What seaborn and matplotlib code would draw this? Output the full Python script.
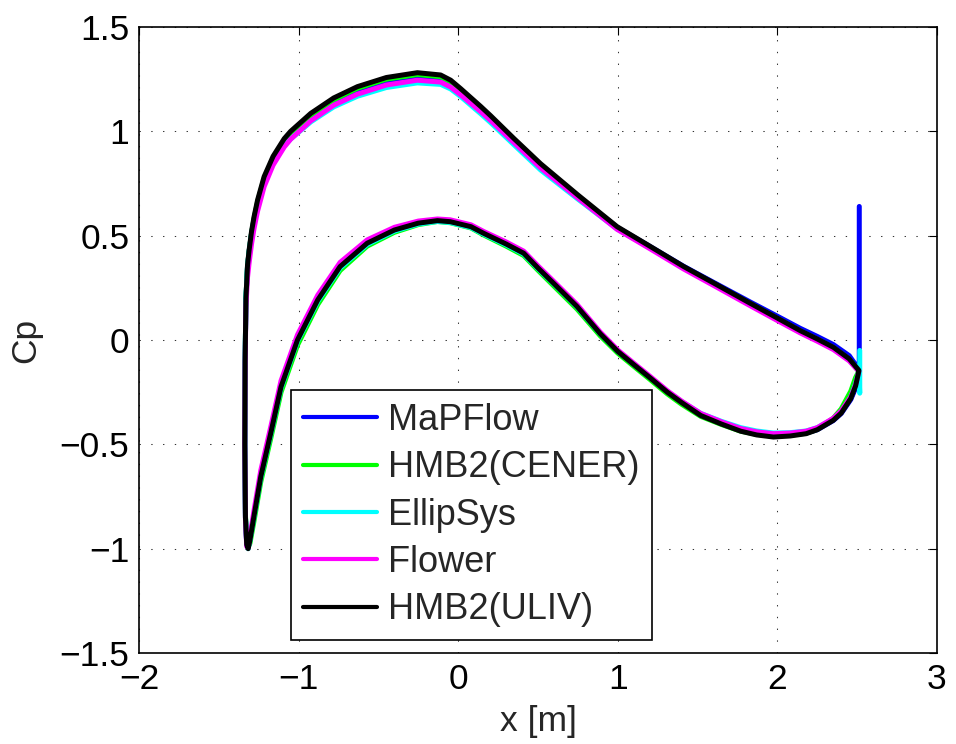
import numpy as np
import pandas as pd
import matplotlib
matplotlib.use("Agg")
import matplotlib.pyplot as plt
import seaborn as sns

# ---------------- data ----------------
SOLVERS = ["MaPFlow", "HMB2(CENER)", "EllipSys", "Flower", "HMB2(ULIV)"]
COLORS = ["#0000FF", "#00FF00", "#00FFFF", "#FF00FF", "#000000"]

# lower Cp branch (trailing edge -> leading edge)
X_LOWER = [2.51, 2.49, 2.46, 2.40, 2.35, 2.25, 2.18, 2.08, 1.975, 1.87, 1.77, 1.65,
           1.52, 1.40, 1.31, 1.20, 1.10, 1.00, 0.89, 0.745, 0.60, 0.50, 0.41, 0.30,
           0.16, 0.08, -0.05, -0.13, -0.25, -0.40, -0.57, -0.74, -0.88, -1.007,
           -1.11, -1.174, -1.237, -1.28, -1.305, -1.316]
# upper Cp branch (leading edge -> trailing edge)
X_UPPER = [-1.325, -1.333, -1.337, -1.335, -1.33, -1.32, -1.31, -1.295, -1.279,
           -1.257, -1.216, -1.16, -1.09, -1.05, -0.924, -0.78, -0.632, -0.45,
           -0.256, -0.11, -0.047, 0.015, 0.14, 0.203, 0.35, 0.516, 0.75, 0.996,
           1.2, 1.413, 1.62, 1.83, 2.0, 2.143, 2.25, 2.351, 2.45, 2.51]

MAPFLOW_LOWER = [-0.16, -0.23, -0.285, -0.352, -0.386, -0.43, -0.446, -0.454, -0.457,
                 -0.447, -0.431, -0.399, -0.358, -0.299, -0.249, -0.18, -0.117, -0.054,
                 0.031, 0.161, 0.271, 0.346, 0.417, 0.462, 0.512, 0.544, 0.568, 0.573,
                 0.561, 0.528, 0.466, 0.355, 0.195, 0.003, -0.22, -0.44, -0.65, -0.84,
                 -0.955, -0.995]
CENER_LOWER = [-0.15, -0.18, -0.245, -0.33, -0.375, -0.428, -0.447, -0.456, -0.46,
               -0.452, -0.437, -0.405, -0.366, -0.308, -0.258, -0.188, -0.126, -0.063,
               0.02, 0.148, 0.258, 0.334, 0.405, 0.45, 0.503, 0.537, 0.562, 0.568,
               0.553, 0.516, 0.45, 0.333, 0.17, -0.025, -0.25, -0.47, -0.68, -0.87,
               -0.975, -0.99]
ELLIPSYS_LOWER = [-0.15, -0.21, -0.275, -0.345, -0.378, -0.42, -0.436, -0.444, -0.446,
                  -0.436, -0.42, -0.39, -0.352, -0.295, -0.246, -0.178, -0.116, -0.054,
                  0.03, 0.158, 0.268, 0.342, 0.412, 0.456, 0.507, 0.539, 0.563, 0.568,
                  0.556, 0.522, 0.458, 0.345, 0.185, -0.006, -0.23, -0.45, -0.66, -0.85,
                  -0.962, -1.0]
FLOWER_LOWER = [-0.15, -0.215, -0.272, -0.34, -0.375, -0.42, -0.437, -0.446, -0.449,
                -0.44, -0.424, -0.392, -0.352, -0.293, -0.243, -0.173, -0.111, -0.048,
                0.038, 0.17, 0.28, 0.355, 0.426, 0.47, 0.52, 0.552, 0.576, 0.58,
                0.57, 0.54, 0.48, 0.372, 0.215, 0.025, -0.195, -0.415, -0.625, -0.82,
                -0.945, -0.995]
ULIV_LOWER = [-0.15, -0.22, -0.28, -0.35, -0.385, -0.43, -0.449, -0.46, -0.465,
              -0.455, -0.437, -0.403, -0.362, -0.30, -0.25, -0.18, -0.118, -0.055,
              0.03, 0.16, 0.27, 0.345, 0.416, 0.46, 0.511, 0.543, 0.567, 0.572,
              0.56, 0.527, 0.464, 0.352, 0.192, 0.0, -0.224, -0.445, -0.655, -0.846,
              -0.96, -1.0]

MAPFLOW_UPPER = [-0.98, -0.85, -0.5, -0.1, 0.2, 0.355, 0.425, 0.51, 0.578, 0.655, 0.763,
                 0.858, 0.942, 0.977, 1.063, 1.137, 1.19, 1.233, 1.256, 1.247, 1.223,
                 1.186, 1.104, 1.06, 0.952, 0.83, 0.688, 0.54, 0.449, 0.353, 0.268,
                 0.182, 0.114, 0.056, 0.017, -0.022, -0.075, -0.14]
CENER_UPPER = [-0.97, -0.84, -0.5, -0.1, 0.2, 0.355, 0.425, 0.512, 0.582, 0.662, 0.774,
               0.871, 0.955, 0.99, 1.077, 1.151, 1.206, 1.25, 1.272, 1.262, 1.237,
               1.198, 1.113, 1.068, 0.958, 0.834, 0.69, 0.538, 0.446, 0.348, 0.261,
               0.172, 0.1, 0.04, 0.0, -0.04, -0.095, -0.15]
ELLIPSYS_UPPER = [-0.98, -0.85, -0.5, -0.1, 0.2, 0.35, 0.42, 0.505, 0.572, 0.648, 0.755,
                  0.848, 0.93, 0.963, 1.045, 1.117, 1.168, 1.21, 1.232, 1.225, 1.203,
                  1.167, 1.085, 1.042, 0.935, 0.815, 0.675, 0.532, 0.442, 0.347, 0.262,
                  0.174, 0.103, 0.043, 0.003, -0.037, -0.092, -0.145]
FLOWER_UPPER = [-0.99, -0.86, -0.5, -0.12, 0.16, 0.3, 0.37, 0.46, 0.535, 0.618, 0.735,
                0.838, 0.925, 0.962, 1.05, 1.125, 1.178, 1.222, 1.245, 1.236, 1.212,
                1.175, 1.095, 1.052, 0.945, 0.825, 0.68, 0.53, 0.438, 0.34, 0.253,
                0.164, 0.093, 0.034, -0.006, -0.046, -0.1, -0.15]
ULIV_UPPER = [-0.98, -0.85, -0.5, -0.1, 0.2, 0.36, 0.431, 0.52, 0.591, 0.671, 0.783,
              0.88, 0.965, 1.0, 1.086, 1.16, 1.214, 1.258, 1.281, 1.27, 1.245,
              1.205, 1.12, 1.075, 0.965, 0.845, 0.695, 0.543, 0.45, 0.352, 0.265,
              0.176, 0.105, 0.045, 0.005, -0.035, -0.09, -0.145]

# trailing-edge vertical segments
MAPFLOW_TE_X = [2.513, 2.513]
MAPFLOW_TE_CP = [0.64, -0.24]
ELLIPSYS_TE_X = [2.516, 2.516]
ELLIPSYS_TE_CP = [-0.05, -0.255]

# ---------------- assemble ----------------
series = {
    "MaPFlow": (MAPFLOW_TE_X, MAPFLOW_TE_CP, MAPFLOW_LOWER, MAPFLOW_UPPER),
    "HMB2(CENER)": ([], [], CENER_LOWER, CENER_UPPER),
    "EllipSys": (ELLIPSYS_TE_X, ELLIPSYS_TE_CP, ELLIPSYS_LOWER, ELLIPSYS_UPPER),
    "Flower": ([], [], FLOWER_LOWER, FLOWER_UPPER),
    "HMB2(ULIV)": ([], [], ULIV_LOWER, ULIV_UPPER),
}
rows = []
for name in SOLVERS:
    tx, tc, lo, up = series[name]
    xs = list(tx) + X_LOWER + X_UPPER
    cs = list(tc) + lo + up
    for i, (xv, cv) in enumerate(zip(xs, cs)):
        rows.append({"x": xv, "Cp": cv, "solver": name, "idx": i})
df = pd.DataFrame(rows)

# ---------------- plot ----------------
sns.set_style("white")
plt.rcParams["font.family"] = ["Liberation Sans", "DejaVu Sans"]
plt.rcParams["axes.unicode_minus"] = True

fig = plt.figure(figsize=(9.56, 7.44), dpi=100)
ax = fig.add_axes([139 / 956, 1 - 653 / 744, (937 - 139) / 956, (653 - 27) / 744])

sns.lineplot(data=df, x="x", y="Cp", hue="solver", hue_order=SOLVERS,
             palette=COLORS, sort=False, estimator=None, linewidth=3.6,
             ax=ax, legend=True)
for ln in ax.get_lines():
    ln.set_solid_capstyle("round")
    ln.set_solid_joinstyle("round")

ax.set_xlim(-2, 3)
ax.set_ylim(-1.5, 1.5)
ax.set_xticks([-2, -1, 0, 1, 2, 3])
ax.set_yticks([-1.5, -1, -0.5, 0, 0.5, 1, 1.5])
ax.set_xticklabels(["\u22122", "\u22121", "0", "1", "2", "3"])
ax.set_yticklabels(["\u22121.5", "\u22121", "\u22120.5", "0", "0.5", "1", "1.5"])
ax.tick_params(direction="in", length=5.5, width=0.8, top=True, right=True,
               labelsize=25.5, pad=7, colors="black")
ax.grid(True, color="0.2", linestyle=(0, (1.3, 10)), linewidth=0.75)
for sp in ax.spines.values():
    sp.set_color("black")
    sp.set_linewidth(1.2)

ax.set_xlabel("x [m]", fontsize=25.5, labelpad=7)
ax.set_ylabel("Cp", fontsize=25.5, labelpad=12)

leg = ax.legend(loc="lower left", bbox_to_anchor=(0.19, 0.021), fontsize=26,
                frameon=True, fancybox=False, framealpha=1, edgecolor="black",
                handlelength=2.05, handletextpad=0.3, labelspacing=0.34,
                borderpad=0.35, borderaxespad=0)
leg.get_frame().set_linewidth(1.2)
for h in leg.get_lines():
    h.set_linewidth(3.0)

fig.savefig("out.png", dpi=100)
